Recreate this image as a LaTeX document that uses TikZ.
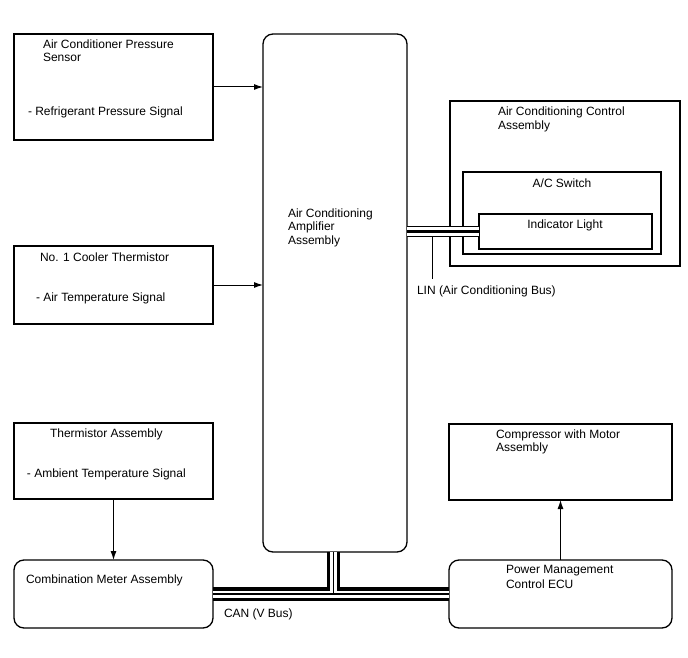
\documentclass[tikz,border=0pt]{standalone}
\usepackage{fontspec}
\setmainfont{Liberation Sans}
\usetikzlibrary{arrows.meta,calc}
\begin{document}
\begin{tikzpicture}[x=1pt,y=-1pt,
  box/.style={draw,line width=1.3pt,inner sep=0pt,outer sep=0pt},
  rbox/.style={box,rounded corners=10pt},
  txt/.style={inner sep=0pt,outer sep=0pt,anchor=base west,font=\fontsize{12}{14}\selectfont},
  ctxt/.style={inner sep=0pt,outer sep=0pt,anchor=base,font=\fontsize{12}{14}\selectfont},
  arr/.style={line width=1pt,-{Latex[length=9pt,width=6pt]}},
  canouter/.style={line width=13.3pt},
  caninner/.style={white,line width=7pt},
  cancore/.style={line width=1.2pt}]
\useasboundingbox (0,0) rectangle (688,658);
% boxes
\node[box,minimum width=199pt,minimum height=106pt] (ps) at (113.5,87) {};
\node[box,minimum width=199pt,minimum height=78pt] (ct) at (113.5,285) {};
\node[box,minimum width=199pt,minimum height=76pt] (th) at (113.5,461) {};
\node[rbox,minimum width=199pt,minimum height=68pt] (cm) at (113.5,594) {};
\node[rbox,minimum width=144pt,minimum height=518pt] (amp) at (335,293) {};
\node[box,minimum width=230pt,minimum height=165pt] (acc) at (565,183.5) {};
\node[box,minimum width=198pt,minimum height=82pt] (sw) at (562,213) {};
\node[box,minimum width=173pt,minimum height=35pt] (il) at (565.5,231.5) {};
\node[box,minimum width=223pt,minimum height=76pt] (comp) at (560.5,462) {};
\node[rbox,minimum width=223pt,minimum height=68pt] (ecu) at (560.5,594) {};
% texts
\node[txt] (t1) at (43,48.5) {Air Conditioner Pressure};
\node[txt] (t2) at (43,62) {Sensor};
\node[txt] (t3) at (28,116) {- Refrigerant Pressure Signal};
\node[txt] (t4) at (40,261) {No. 1 Cooler Thermistor};
\node[txt] (t5) at (36,301) {- Air Temperature Signal};
\node[txt] (t6) at (50,437) {Thermistor Assembly};
\node[txt] (t7) at (27,477.5) {- Ambient Temperature Signal};
\node[txt] (t8) at (26,583) {Combination Meter Assembly};
\node[txt] (t9) at (288,217) {Air Conditioning};
\node[txt] (t10) at (288,230.5) {Amplifier};
\node[txt] (t11) at (288,244) {Assembly};
\node[txt] (t12) at (498,115.5) {Air Conditioning Control};
\node[txt] (t13) at (498,129.5) {Assembly};
\node[ctxt] (t14) at (562,187) {A/C Switch};
\node[ctxt] (t15) at (565,228.5) {Indicator Light};
\node[txt] (t16) at (496,438) {Compressor with Motor};
\node[txt] (t17) at (496,451.5) {Assembly};
\node[txt] (t18) at (506,573.5) {Power Management};
\node[txt] (t19) at (506,588) {Control ECU};
\node[txt] (lin) at (417,294.5) {LIN (Air Conditioning Bus)};
\node[txt] (can) at (224,617) {CAN (V Bus)};
% arrows
\draw[arr] (ps.east) -- (ps.east -| amp.west);
\draw[arr] (ct.east) -- (ct.east -| amp.west);
\draw[arr] (th.south) -- (cm.north);
\draw[arr] (ecu.north) -- (comp.south);
% LIN bus
\coordinate (linS) at (amp.east |- il.west);
\draw[line width=11.5pt] (linS) -- (il.west);
\draw[white,line width=9.3pt] (linS) -- (il.west);
\draw[line width=3.5pt] (linS) -- (il.west);
\coordinate (linA) at (432,237.2);
\coordinate (linB) at (432,279);
\draw[line width=1pt] (linA) -- (linB);
% CAN bus
\coordinate (canT) at ($(amp.south)+(-1.3,0)$);
\coordinate (canJ) at (canT |- cm.east);
\draw[canouter] (cm.east) -- (ecu.west);
\draw[canouter] (canT) -- (canJ);
\draw[caninner] (cm.east) -- (ecu.west);
\draw[caninner] (canT) -- (canJ);
\draw[cancore] (cm.east) -- (ecu.west);
\draw[cancore] (canT) -- (canJ);
\end{tikzpicture}
\end{document}
